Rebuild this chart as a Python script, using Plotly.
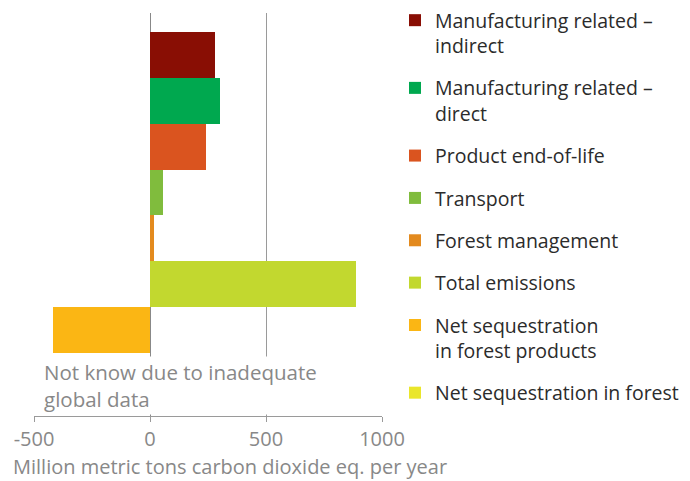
import plotly.graph_objects as go

categories = [
    "Manufacturing related –<br>indirect",
    "Manufacturing related –<br>direct",
    "Product end-of-life",
    "Transport",
    "Forest management",
    "Total emissions",
    "Net sequestration<br>in forest products",
    "Net sequestration in forest",
]
values = [282, 300, 240, 54, 19, 886, -420, None]
colors = ["#890E04", "#00A84F", "#DA541F", "#80BC3D", "#E38A1E", "#C2D82F", "#FBB614", "#EAE62B"]

tick_vals = [-500, 0, 500, 1000]
tick_text = ["-500", "0", "500", "1000"]

x_title = "Million metric tons carbon dioxide eq. per year"
note_text = "Not know due to inadequate<br>global data"

FONT = "Open Sans"
W, H = 690, 481
ML, MR, MT, MB = 34, 308, 13, 65
PW, PH = W - ML - MR, H - MT - MB

def px_x(px):
    return (px - ML) / PW

def px_y(py):
    return (H - MB - py) / PH

fig = go.Figure()
for i, (cat, val, col) in enumerate(zip(categories, values, colors)):
    fig.add_trace(go.Bar(
        x=[val], y=[cat], orientation="h", name=cat,
        marker=dict(color=col, line=dict(width=0)),
        legendgroup=str(i), width=1,
    ))

fig.update_layout(
    width=W, height=H,
    margin=dict(l=ML, r=MR, t=MT, b=MB, autoexpand=False),
    paper_bgcolor="white", plot_bgcolor="white",
    barmode="relative", bargap=0,
    font=dict(family=FONT, color="#888888", size=19),
    showlegend=True,
    legend=dict(
        xref="container", yref="container",
        x=395 / W, y=1 - 1 / H, xanchor="left", yanchor="top",
        font=dict(family=FONT, size=19.5, color="#2b2b2b"),
        tracegroupgap=14, traceorder="grouped", valign="top",
        bgcolor="rgba(0,0,0,0)", maxheight=1,
    ),
    xaxis=dict(
        range=[-500, 1000], tickvals=tick_vals, ticktext=tick_text,
        showgrid=True, gridcolor="#9a9a9a", gridwidth=1,
        zeroline=True, zerolinecolor="#888888", zerolinewidth=1,
        showline=True, linecolor="#9a9a9a", linewidth=1,
        ticks="outside", ticklen=5, tickcolor="#9a9a9a",
        tickfont=dict(family=FONT, size=20, color="#888888"),
        fixedrange=True,
    ),
    yaxis=dict(
        categoryorder="array", categoryarray=categories,
        range=[7.874, -0.914], showticklabels=False, showgrid=False,
        zeroline=False, showline=False, ticks="",
        fixedrange=True,
    ),
)

fig.add_annotation(
    text=note_text, xref="paper", yref="paper",
    x=px_x(42), y=px_y(385), xanchor="left", yanchor="middle",
    align="left", showarrow=False, bgcolor="white", borderpad=1,
    font=dict(family=FONT, size=20.5, color="#888888"),
)
fig.add_annotation(
    text=x_title, xref="paper", yref="paper",
    x=px_x(11), y=px_y(466), xanchor="left", yanchor="middle",
    showarrow=False,
    font=dict(family=FONT, size=20, color="#888888"),
)

fig.write_html("out.html")
